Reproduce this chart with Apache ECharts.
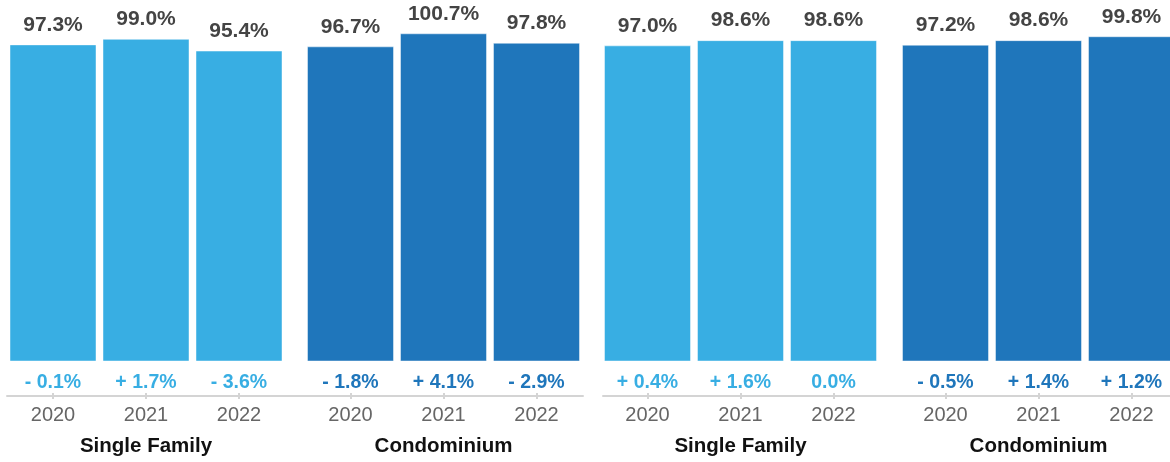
<!DOCTYPE html>
<html>
<head>
<meta charset="utf-8">
<script src="https://cdn.jsdelivr.net/npm/echarts@6/dist/echarts.min.js"></script>
<style>
html,body{margin:0;padding:0;background:#fff;overflow:hidden;}
#chart{width:1180px;height:462px;}
</style>
</head>
<body>
<div id="chart"></div>
<script>
const years = ['2020', '2021', '2022'];
const groupNames = ['Single Family', 'Condominium', 'Single Family', 'Condominium'];
const valuesSF1 = [97.3, 99.0, 95.4];
const valuesCondo1 = [96.7, 100.7, 97.8];
const valuesSF2 = [97.0, 98.6, 98.6];
const valuesCondo2 = [97.2, 98.6, 99.8];
const changesSF1 = ['- 0.1%', '+ 1.7%', '- 3.6%'];
const changesCondo1 = ['- 1.8%', '+ 4.1%', '- 2.9%'];
const changesSF2 = ['+ 0.4%', '+ 1.6%', '0.0%'];
const changesCondo2 = ['- 0.5%', '+ 1.4%', '+ 1.2%'];

const LIGHT = '#38aee3';
const DARK = '#1f76bb';
const FONT = '"Liberation Sans", Arial, Helvetica, sans-serif';

const groups = [
  { values: valuesSF1, changes: changesSF1, color: LIGHT, left: 6.5 },
  { values: valuesCondo1, changes: changesCondo1, color: DARK, left: 304 },
  { values: valuesSF2, changes: changesSF2, color: LIGHT, left: 601 },
  { values: valuesCondo2, changes: changesCondo2, color: DARK, left: 899 }
];

const GRID_TOP = 3;
const GRID_H = 361.5;
const BAND_W = 279;

const grid = [], xAxis = [], yAxis = [], series = [];
groups.forEach((g, i) => {
  grid.push({ left: g.left, width: BAND_W, top: GRID_TOP, height: GRID_H, containLabel: false });
  // years axis (offset below bars)
  xAxis.push({
    type: 'category', gridIndex: i, data: years, position: 'bottom', offset: 31.5,
    axisLine: { show: false, onZero: false },
    axisTick: { show: true, alignWithLabel: true, length: 6, lineStyle: { color: '#d4d4d4', width: 2 } },
    axisLabel: { color: '#666', fontSize: 20, fontFamily: FONT, margin: 12 },
    name: groupNames[i], nameLocation: 'middle', nameGap: 43,
    nameTextStyle: { color: '#111', fontSize: 20.5, fontWeight: 'bold', fontFamily: FONT }
  });
  // change labels axis
  xAxis.push({
    type: 'category', gridIndex: i, data: g.changes, position: 'bottom', offset: 0,
    axisLine: { show: false, onZero: false }, axisTick: { show: false },
    axisLabel: { color: g.color, fontSize: 19.5, fontWeight: 'bold', fontFamily: FONT, margin: 11 }
  });
  yAxis.push({ type: 'value', gridIndex: i, min: 0, max: 110, show: false });
  series.push({
    type: 'bar', xAxisIndex: i * 2, yAxisIndex: i, data: g.values, barWidth: 87,
    itemStyle: { color: g.color, borderColor: 'rgba(255,255,255,0.45)', borderWidth: 1 },
    label: {
      show: true, position: 'top', distance: 9, color: '#444', fontSize: 21, fontWeight: 'bold',
      fontFamily: FONT, formatter: p => p.value.toFixed(1) + '%'
    }
  });
});

// baseline axis lines for the two halves
[[7, 576], [603, 575]].forEach(([left, width]) => {
  const gi = grid.length;
  grid.push({ left: left, width: width, top: GRID_TOP, height: GRID_H });
  xAxis.push({
    type: 'value', gridIndex: gi, min: 0, max: 1, position: 'bottom', offset: 31.5,
    axisLine: { show: true, onZero: false, lineStyle: { color: '#d4d4d4', width: 2 } },
    axisTick: { show: false }, axisLabel: { show: false }, splitLine: { show: false }
  });
  yAxis.push({ type: 'value', gridIndex: gi, show: false, splitLine: { show: false } });
});

const chart = echarts.init(document.getElementById('chart'), null, { renderer: 'canvas' });
chart.setOption({ animation: false, grid, xAxis, yAxis, series });
</script>
</body>
</html>
